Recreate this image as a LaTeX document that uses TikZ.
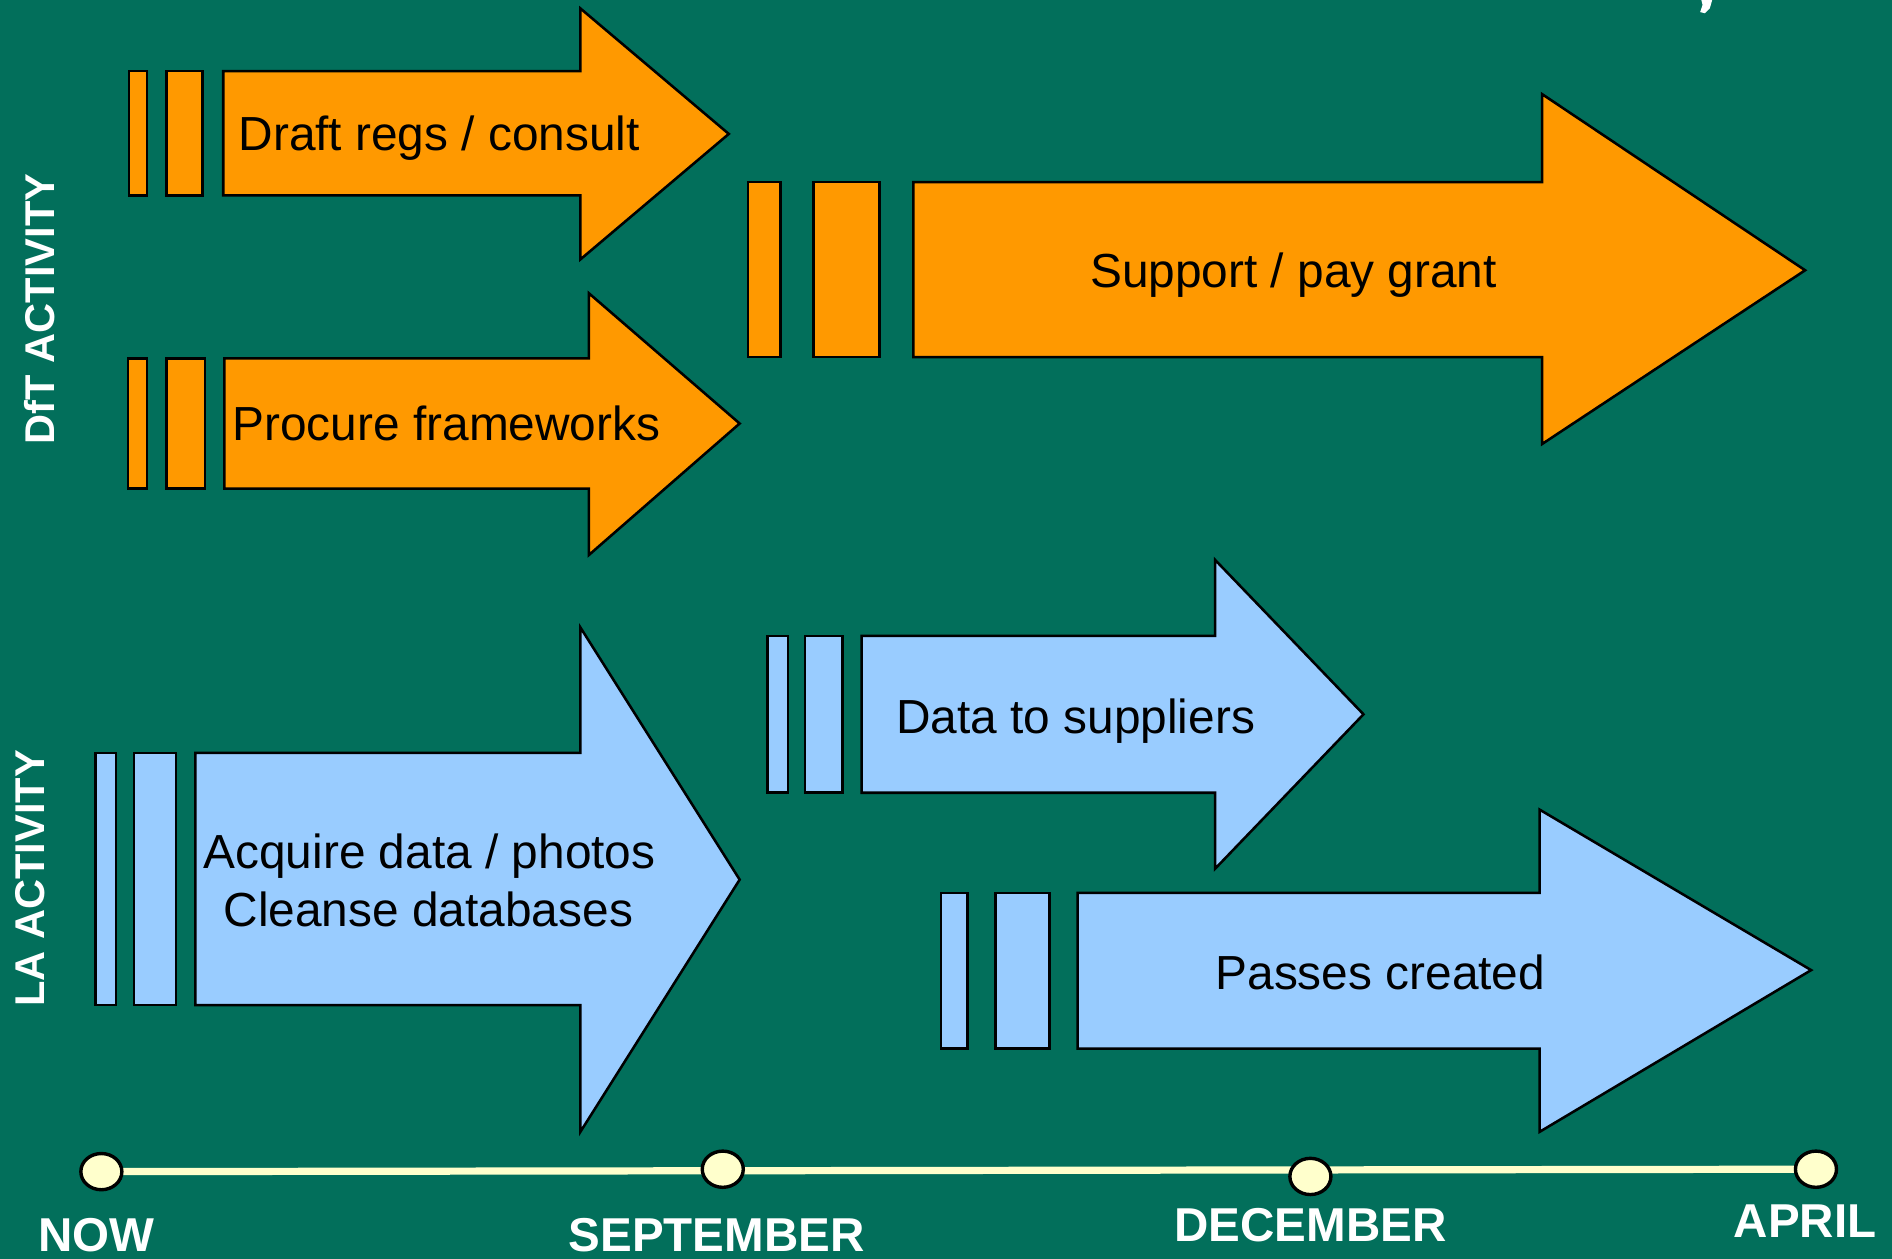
\documentclass[tikz,border=0pt]{standalone}
\usepackage{fontspec}
\setmainfont{Liberation Sans}
\usetikzlibrary{shapes.geometric,backgrounds}
\definecolor{bggreen}{RGB}{2,111,91}
\definecolor{arrorange}{RGB}{255,153,0}
\definecolor{arrblue}{RGB}{153,204,255}
\definecolor{cream}{RGB}{255,255,204}
\tikzset{
  shp/.style={draw=black, line width=0.6pt, line join=miter},
  orng/.style={shp, fill=arrorange},
  lblu/.style={shp, fill=arrblue},
  lbl/.style={font=\fontsize{11.27}{13.6}\selectfont, inner sep=0pt, text=black},
  datelbl/.style={font=\bfseries\fontsize{11.2}{13}\selectfont, inner sep=0pt, text=white, anchor=base},
  sidelbl/.style={font=\bfseries\fontsize{9.8}{12}\selectfont, inner sep=0pt, text=white, rotate=90},
  dot/.style={ellipse, draw=black, line width=0.8pt, fill=cream, minimum width=0.34cm, minimum height=0.30cm, inner sep=0pt},
  tline/.style={draw=cream, line width=1.7pt}
}
\begin{document}
\begin{tikzpicture}[x=0.01cm, y=-0.01cm]
\useasboundingbox (0,0) rectangle (1568,1043);

% background
\begin{scope}[on background layer]
\fill[bggreen] (0,0) rectangle (1568,1043);
\end{scope}

% small white mark at top right
\fill[white] (1410,0) -- (1419,0) -- (1417,7) -- (1413,11) -- (1409,10) -- (1411,4) -- cycle;

% side labels
\node[sidelbl] (dft) at (33,256) {DfT ACTIVITY};
\node[sidelbl] (la) at (25,728) {LA ACTIVITY};

% Draft regs / consult
\draw[orng] (107,59) rectangle (122,162);
\draw[orng] (138,59) rectangle (168,162);
\draw[orng] (185,59) -- (481,59) -- (481,7) -- (604,111) -- (481,215) -- (481,162) -- (185,162) -- cycle;
\node[lbl, anchor=base west] (draft) at (197,125) {Draft regs / consult};

% Procure frameworks
\draw[orng] (106,297) rectangle (122,405);
\draw[orng] (138,297) rectangle (170,405);
\draw[orng] (186,297) -- (488,297) -- (488,243) -- (613,351) -- (488,460) -- (488,405) -- (186,405) -- cycle;
\node[lbl, anchor=base west] (procure) at (192,365) {Procure frameworks};

% Support / pay grant
\draw[orng] (620,151) rectangle (647,296);
\draw[orng] (674,151) rectangle (729,296);
\draw[orng] (757,151) -- (1278,151) -- (1278,78) -- (1496,224) -- (1278,368) -- (1278,296) -- (757,296) -- cycle;
\node[lbl, anchor=base] (support) at (1072,238) {Support / pay grant};

% Acquire data / photos
\draw[lblu] (79,624) rectangle (96,833);
\draw[lblu] (111,624) rectangle (146,833);
\draw[lblu] (162,624) -- (481,624) -- (481,520) -- (613,729) -- (481,938) -- (481,833) -- (162,833) -- cycle;
\node[lbl, anchor=base] (acq1) at (356,720) {Acquire data / photos};
\node[lbl, anchor=base] (acq2) at (355,768) {Cleanse databases};

% Data to suppliers
\draw[lblu] (636,527) rectangle (653,657);
\draw[lblu] (667,527) rectangle (698,657);
\draw[lblu] (714,527) -- (1007,527) -- (1007,464) -- (1130,592) -- (1007,720) -- (1007,657) -- (714,657) -- cycle;
\node[lbl, anchor=base west] (data) at (742,608) {Data to suppliers};

% Passes created
\draw[lblu] (780,740) rectangle (802,869);
\draw[lblu] (825,740) rectangle (870,869);
\draw[lblu] (893,740) -- (1276,740) -- (1276,671) -- (1501,804) -- (1276,938) -- (1276,869) -- (893,869) -- cycle;
\node[lbl, anchor=base] (passes) at (1144,820) {Passes created};

% timeline
\node[dot] (now) at (84,971) {};
\node[dot] (sep) at (599,969) {};
\node[dot] (dec) at (1086,975) {};
\node[dot] (apr) at (1505,969) {};
\begin{scope}[on background layer]
\draw[tline] (now.center) -- (apr.center);
\end{scope}

\node[datelbl] (nowl) at (80,1037) {NOW};
\node[datelbl] (sepl) at (594,1037) {SEPTEMBER};
\node[datelbl] (decl) at (1086,1029) {DECEMBER};
\node[datelbl] (aprl) at (1496,1026) {APRIL};
\end{tikzpicture}
\end{document}
